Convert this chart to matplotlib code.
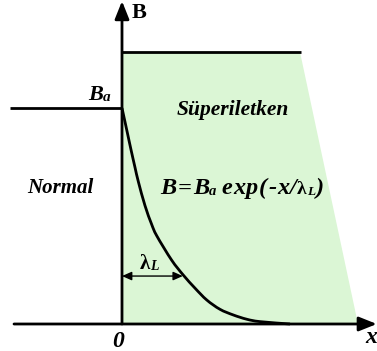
import matplotlib
matplotlib.use("Agg")
import matplotlib.pyplot as plt
from matplotlib.patches import Polygon, PathPatch
from matplotlib.path import Path
from matplotlib.transforms import offset_copy

# ---- data (x in units of lambda_L, B in units of B_a) ----
curve_x = [0.0, 0.14, 0.225, 0.325, 0.41, 0.575, 0.74, 0.87, 1.24, 1.53, 1.83, 2.12,
           2.45, 2.78, 3.12, 3.45, 4.2]
curve_B = [1.0, 0.88, 0.807, 0.725, 0.658, 0.548, 0.462, 0.408, 0.296, 0.227, 0.165,
           0.111, 0.068, 0.042, 0.022, 0.011, 0.0]
Ba = 1.0
normal_x = [-2.8, 0.0]
normal_B = [Ba, Ba]
top_x = [0.0, 4.475]
top_B = [1.259, 1.259]
region_x = [0.0, 0.0, 4.45, 5.9]
region_B = [0.0, 1.259, 1.259, 0.0]
lambda_L = 1.52
lambda_B = 0.222

SERIF = 'Liberation Serif'

fig = plt.figure(figsize=(3.77, 3.51), dpi=100)
ax = fig.add_axes([0, 0, 1, 1])
ax.set_xlim(-3.05, 6.375)
ax.set_ylim(-0.125, 1.5)
ax.axis('off')

green = '#dbf6d5'
ax.add_patch(Polygon(list(zip(region_x, region_B)), closed=True, facecolor=green,
                     edgecolor='none', zorder=1))

ax.plot(normal_x, normal_B, color='black', lw=2, solid_capstyle='butt', zorder=3)
ax.plot(top_x, top_B, color='black', lw=2, solid_capstyle='butt', zorder=3)


def smooth_path(xs, ys):
    """Catmull-Rom spline through the given points, as cubic Bezier segments."""
    pts = list(zip(xs, ys))
    verts = [pts[0]]
    codes = [Path.MOVETO]
    n = len(pts)
    for i in range(n - 1):
        p0 = pts[i - 1] if i > 0 else pts[i]
        p1 = pts[i]
        p2 = pts[i + 1]
        p3 = pts[i + 2] if i + 2 < n else pts[i + 1]
        c1 = (p1[0] + (p2[0] - p0[0]) / 6, p1[1] + (p2[1] - p0[1]) / 6)
        c2 = (p2[0] - (p3[0] - p1[0]) / 6, p2[1] - (p3[1] - p1[1]) / 6)
        verts += [c1, c2, p2]
        codes += [Path.CURVE4] * 3
    return Path(verts, codes)


ax.add_patch(PathPatch(smooth_path(curve_x, curve_B), facecolor='none',
                       edgecolor='black', lw=2, zorder=3))

# axes with arrows
ax.annotate('', xy=(6.37, 0.0), xytext=(-2.7, 0.0),
            arrowprops=dict(arrowstyle='-|>,head_length=0.9,head_width=0.36', lw=2,
                            color='black', mutation_scale=12, shrinkA=0, shrinkB=0),
            zorder=4)
ax.annotate('', xy=(0.0, 1.495), xytext=(0.0, 0.0),
            arrowprops=dict(arrowstyle='-|>,head_length=0.9,head_width=0.36', lw=2,
                            color='black', mutation_scale=12, shrinkA=0, shrinkB=0),
            zorder=4)

# lambda_L arrow
ax.annotate('', xy=(lambda_L, lambda_B), xytext=(0.0, lambda_B),
            arrowprops=dict(arrowstyle='<|-|>,head_length=0.72,head_width=0.32', lw=1,
                            color='black', mutation_scale=8, shrinkA=0, shrinkB=0),
            zorder=4)

renderer = fig.canvas.get_renderer()


def seq_text(x, y, pieces):
    """Draw text pieces left to right; each piece: (text, size, style, dy_pt, gap_pt)."""
    xoff = 0.0
    for txt, size, style, dy, gap in pieces:
        xoff += gap
        tr = offset_copy(ax.transData, fig=fig, x=xoff, y=dy, units='points')
        t = ax.text(x, y, txt, family=SERIF, weight='bold', style=style, fontsize=size,
                    ha='left', va='baseline', transform=tr, zorder=5)
        w = t.get_window_extent(renderer).width * 72.0 / fig.dpi
        xoff += w


ax.text(0.25, 1.417, 'B', family=SERIF, weight='bold', fontsize=16, ha='left', va='baseline')
seq_text(-0.85, 1.037, [('B', 16, 'italic', 0, 0), ('a', 11, 'italic', -0.5, 0.3)])
ax.text(1.375, 0.968, 'Süperiletken', family=SERIF, weight='bold', style='italic',
        fontsize=15.5, ha='left', va='baseline')
ax.text(-2.375, 0.606, 'Normal', family=SERIF, weight='bold', style='italic',
        fontsize=15, ha='left', va='baseline')
seq_text(0.95, 0.60, [('B', 17.5, 'italic', 0, 0),
                      ('=', 17.5, 'italic', 0, 1.0),
                      ('B', 17.5, 'italic', 0, 1.0),
                      ('a', 10.5, 'italic', -0.5, 0.3),
                      ('e', 17.5, 'italic', 0, 3.5),
                      ('x', 17.5, 'italic', 0, 0.6),
                      ('p', 17.5, 'italic', 0, 0.6),
                      ('(', 17.5, 'italic', 0, 0.6),
                      ('-', 17.5, 'italic', 0, 0.6),
                      ('x', 17.5, 'italic', 0, 0.6),
                      ('/', 17.5, 'italic', 0, 0.6),
                      ('λ', 14, 'normal', 0, 0.3),
                      ('L', 9.5, 'italic', -0.5, 0),
                      (')', 17.5, 'italic', 0, 0.6)])
seq_text(0.45, 0.255, [('λ', 15, 'normal', 0, 0), ('L', 10, 'italic', -0.5, 0)])
ax.text(-0.1, -0.106, '0', family=SERIF, weight='bold', style='italic', fontsize=17,
        ha='center', va='baseline')
ax.text(6.22, -0.088, 'x', family=SERIF, weight='bold', style='italic', fontsize=17,
        ha='center', va='baseline')

fig.savefig('out.png', dpi=100)
